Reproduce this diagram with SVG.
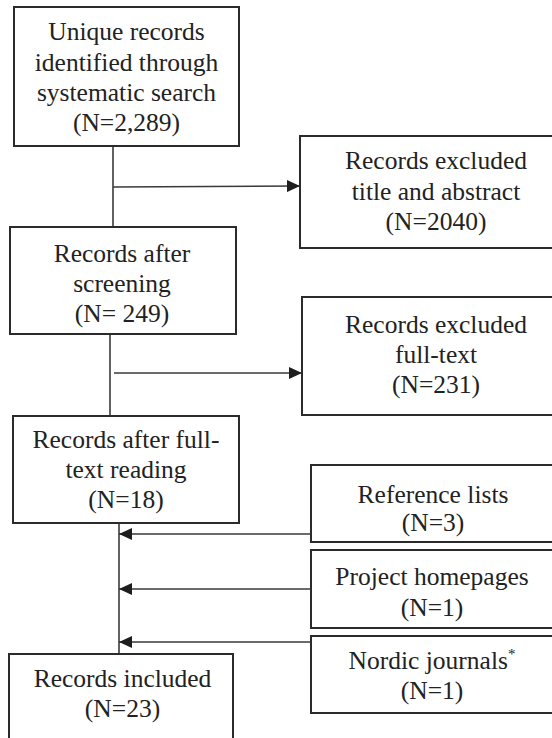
<svg xmlns="http://www.w3.org/2000/svg" width="552" height="738" viewBox="0 0 552 738">
<style>
  .box { fill: #ffffff; stroke: #2b2b2b; stroke-width: 2; }
  .t { font-family: 'Liberation Serif', 'Tinos', 'DejaVu Serif', 'Noto Serif', serif; font-size: 25.5px; fill: #222222; text-anchor: middle; }
  .ln { stroke: #3a3a3a; stroke-width: 1.6; fill: none; }
  .sup { font-size: 15px; }
</style>
<defs>
  <marker id="ah" markerUnits="userSpaceOnUse" markerWidth="14" markerHeight="12" refX="13" refY="6" orient="auto">
    <path d="M0,0 L13,6 L0,12 Z" fill="#1e1e1e"/>
  </marker>
</defs>
<rect width="552" height="738" fill="#ffffff"/>

<g id="connectors">
  <line class="ln" x1="113" y1="146" x2="113" y2="227"/>
  <line class="ln" x1="113" y1="187" x2="300" y2="186" marker-end="url(#ah)"/>
  <line class="ln" x1="110" y1="334" x2="110" y2="416"/>
  <line class="ln" x1="114" y1="373" x2="302" y2="373" marker-end="url(#ah)"/>
  <line class="ln" x1="119" y1="523" x2="119" y2="654"/>
  <line class="ln" x1="311" y1="534" x2="119" y2="534" marker-end="url(#ah)"/>
  <line class="ln" x1="311" y1="589" x2="119" y2="589" marker-end="url(#ah)"/>
  <line class="ln" x1="311" y1="642" x2="119" y2="642" marker-end="url(#ah)"/>
</g>

<g id="n_identified">
  <rect class="box" x="14" y="7" width="225" height="139"/>
  <text class="t" x="126.5" y="40" font-family="Liberation Serif, serif">Unique records</text>
  <text class="t" x="126.5" y="71" font-family="Liberation Serif, serif">identified through</text>
  <text class="t" x="126.5" y="101" font-family="Liberation Serif, serif">systematic search</text>
  <text class="t" x="126.5" y="131" font-family="Liberation Serif, serif">(N=2,289)</text>
</g>

<g id="n_excl_title">
  <rect class="box" x="300" y="136" width="270" height="112"/>
  <text class="t" x="436" y="169">Records excluded</text>
  <text class="t" x="436" y="200">title and abstract</text>
  <text class="t" x="436" y="230">(N=2040)</text>
</g>

<g id="n_screening">
  <rect class="box" x="10" y="227" width="226" height="107"/>
  <text class="t" x="122" y="262">Records after</text>
  <text class="t" x="122" y="292">screening</text>
  <text class="t" x="122" y="322">(N= 249)</text>
</g>

<g id="n_excl_full">
  <rect class="box" x="302" y="297" width="270" height="118"/>
  <text class="t" x="436" y="333">Records excluded</text>
  <text class="t" x="436" y="363">full-text</text>
  <text class="t" x="436" y="393">(N=231)</text>
</g>

<g id="n_fulltext">
  <rect class="box" x="13" y="416" width="226" height="107"/>
  <text class="t" x="126" y="448">Records after full-</text>
  <text class="t" x="126" y="478">text reading</text>
  <text class="t" x="126" y="508">(N=18)</text>
</g>

<g id="n_reflists">
  <rect class="box" x="311" y="465" width="260" height="77"/>
  <text class="t" x="433" y="503">Reference lists</text>
  <text class="t" x="433" y="531">(N=3)</text>
</g>

<g id="n_homepages">
  <rect class="box" x="311" y="550" width="260" height="78"/>
  <text class="t" x="432" y="585">Project homepages</text>
  <text class="t" x="432" y="616">(N=1)</text>
</g>

<g id="n_nordic">
  <rect class="box" x="311" y="636" width="260" height="77"/>
  <text class="t" x="432" y="669">Nordic journals<tspan class="sup" dy="-10">*</tspan></text>
  <text class="t" x="432" y="699">(N=1)</text>
</g>

<g id="n_included">
  <rect class="box" x="9" y="654" width="224" height="100"/>
  <text class="t" x="122.5" y="687">Records included</text>
  <text class="t" x="122.5" y="717">(N=23)</text>
</g>
</svg>
